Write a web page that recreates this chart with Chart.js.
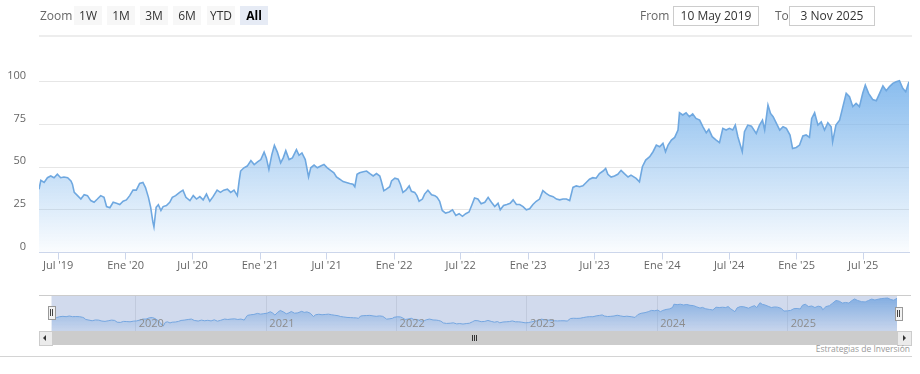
<!DOCTYPE html>
<html>
<head>
<meta charset="utf-8">
<script src="https://cdn.jsdelivr.net/npm/chart.js@4.4.1/dist/chart.umd.min.js"></script>
<style>
html,body{margin:0;padding:0;background:#fff;}
body{width:920px;height:374px;position:relative;overflow:hidden;font-family:"Open Sans",Arial,sans-serif;}
canvas{position:absolute;left:0;}
.t{position:absolute;white-space:nowrap;}
.btn{position:absolute;top:6px;height:19px;width:28px;background:#f7f7f7;color:#333;font-size:12px;line-height:19px;text-align:center;}
.btn.sel{background:#e6ebf5;font-weight:bold;color:#000;}
.inp{position:absolute;top:6px;height:18px;width:84px;border:1px solid #cccccc;background:#fff;color:#333;font-size:12px;line-height:18px;text-align:center;}
.ln{position:absolute;}
</style>
</head>
<body>
<canvas id="main" width="920" height="290" style="top:0;width:920px;height:290px;"></canvas>
<canvas id="nav" width="920" height="36" style="top:295px;width:920px;height:36px;"></canvas>

<div class="t" style="left:40px;top:6px;line-height:19px;font-size:12px;color:#666;">Zoom</div>
<div class="btn" style="left:74px;">1W</div>
<div class="btn" style="left:107px;">1M</div>
<div class="btn" style="left:140px;">3M</div>
<div class="btn" style="left:173px;">6M</div>
<div class="btn" style="left:207px;">YTD</div>
<div class="btn sel" style="left:240px;">All</div>
<div class="t" style="left:640px;top:6px;line-height:20px;font-size:12px;color:#666;">From</div>
<div class="inp" style="left:673px;">10 May 2019</div>
<div class="t" style="left:775px;top:6px;line-height:20px;font-size:12px;color:#666;">To</div>
<div class="inp" style="left:789px;">3 Nov 2025</div>
<div class="ln" style="left:39px;top:35px;width:873px;height:2px;background:#ededed;"></div>

<!-- navigator outline, handles and scrollbar -->
<div class="ln" style="left:39px;top:295px;width:872px;height:1px;background:#cccccc;"></div>
<div class="ln" style="left:48px;top:306px;width:6px;height:12px;background:#f2f2f2;border:1px solid #999;"></div>
<div class="ln" style="left:50px;top:309px;width:1px;height:7px;background:#444;"></div>
<div class="ln" style="left:52px;top:309px;width:1px;height:7px;background:#444;"></div>
<div class="ln" style="left:895px;top:307px;width:6px;height:12px;background:#f2f2f2;border:1px solid #999;"></div>
<div class="ln" style="left:897px;top:310px;width:1px;height:7px;background:#444;"></div>
<div class="ln" style="left:899px;top:310px;width:1px;height:7px;background:#444;"></div>

<div class="ln" style="left:39px;top:331px;width:872px;height:14px;background:#f2f2f2;"></div>
<div class="ln" style="left:52px;top:331px;width:845px;height:14px;background:#cccccc;"></div>
<div class="ln" style="left:39px;top:331px;width:12px;height:13px;background:#ebebeb;border:1px solid #cccccc;"></div>
<div class="ln" style="left:43px;top:335px;width:0;height:0;border-top:3px solid transparent;border-bottom:3px solid transparent;border-right:3px solid #333;"></div>
<div class="ln" style="left:897px;top:331px;width:13px;height:13px;background:#ebebeb;border:1px solid #cccccc;"></div>
<div class="ln" style="left:903px;top:335px;width:0;height:0;border-top:3px solid transparent;border-bottom:3px solid transparent;border-left:3px solid #333;"></div>
<div class="ln" style="left:472px;top:335px;width:1px;height:6px;background:#333;"></div>
<div class="ln" style="left:474px;top:335px;width:1px;height:6px;background:#333;"></div>
<div class="ln" style="left:476px;top:335px;width:1px;height:6px;background:#333;"></div>

<div class="t" style="right:10px;top:343px;line-height:12px;font-size:8.5px;color:#999;">Estrategias de Inversión</div>
<div class="ln" style="left:0;top:356px;width:912px;height:1px;background:#d4d4d4;"></div>

<script>
const dates = [
"2019-05-10","2019-05-15","2019-05-24","2019-06-02","2019-06-11","2019-06-20","2019-06-29","2019-07-08","2019-07-17","2019-07-27",
"2019-08-05","2019-08-09","2019-08-14","2019-08-23","2019-09-01","2019-09-10","2019-09-19","2019-09-28","2019-10-07","2019-10-16",
"2019-10-25","2019-11-03","2019-11-10","2019-11-19","2019-11-28","2019-12-07","2019-12-16","2019-12-25","2020-01-03","2020-01-12",
"2020-01-21","2020-01-30","2020-02-08","2020-02-17","2020-02-24","2020-03-03","2020-03-09","2020-03-15","2020-03-18","2020-03-24",
"2020-03-30","2020-04-06","2020-04-12","2020-04-21","2020-04-30","2020-05-07","2020-05-16","2020-05-27","2020-06-05","2020-06-13",
"2020-06-24","2020-07-03","2020-07-12","2020-07-21","2020-07-30","2020-08-08","2020-08-17","2020-08-26","2020-09-06","2020-09-15",
"2020-09-24","2020-10-04","2020-10-13","2020-10-22","2020-10-31","2020-11-05","2020-11-09","2020-11-18","2020-11-27","2020-12-07",
"2020-12-16","2020-12-25","2021-01-03","2021-01-12","2021-01-18","2021-01-25","2021-02-02","2021-02-09","2021-02-17","2021-02-26",
"2021-03-05","2021-03-12","2021-03-21","2021-03-30","2021-04-10","2021-04-17","2021-04-25","2021-05-04","2021-05-13","2021-05-19",
"2021-05-28","2021-06-06","2021-06-15","2021-06-24","2021-07-03","2021-07-12","2021-07-21","2021-07-28","2021-08-06","2021-08-15",
"2021-08-24","2021-09-02","2021-09-11","2021-09-16","2021-09-22","2021-09-29","2021-10-09","2021-10-18","2021-10-27","2021-11-05",
"2021-11-14","2021-11-23","2021-11-27","2021-12-04","2021-12-11","2021-12-20","2021-12-25","2022-01-03","2022-01-12","2022-01-18",
"2022-01-25","2022-02-02","2022-02-11","2022-02-17","2022-02-26","2022-03-04","2022-03-10","2022-03-19","2022-03-25","2022-04-03",
"2022-04-13","2022-04-22","2022-04-28","2022-05-05","2022-05-12","2022-05-21","2022-05-31","2022-06-09","2022-06-18","2022-06-27",
"2022-07-06","2022-07-15","2022-07-24","2022-08-02","2022-08-08","2022-08-17","2022-08-26","2022-09-05","2022-09-14","2022-09-23",
"2022-10-02","2022-10-11","2022-10-17","2022-10-26","2022-11-04","2022-11-13","2022-11-21","2022-11-30","2022-12-09","2022-12-18",
"2022-12-27","2023-01-05","2023-01-14","2023-01-23","2023-02-01","2023-02-10","2023-02-19","2023-02-28","2023-03-10","2023-03-19",
"2023-03-28","2023-04-06","2023-04-15","2023-04-24","2023-05-03","2023-05-12","2023-05-21","2023-05-30","2023-06-08","2023-06-17",
"2023-06-26","2023-07-05","2023-07-14","2023-07-24","2023-07-31","2023-08-06","2023-08-15","2023-08-24","2023-09-02","2023-09-11",
"2023-09-20","2023-09-30","2023-10-08","2023-10-22","2023-10-31","2023-11-08","2023-11-17","2023-11-28","2023-12-07","2023-12-16",
"2023-12-25","2024-01-03","2024-01-10","2024-01-17","2024-01-26","2024-02-04","2024-02-13","2024-02-17","2024-02-26","2024-03-06",
"2024-03-15","2024-03-24","2024-04-02","2024-04-12","2024-04-21","2024-04-30","2024-05-07","2024-05-16","2024-05-27","2024-06-05",
"2024-06-14","2024-06-23","2024-07-02","2024-07-11","2024-07-18","2024-07-25","2024-08-06","2024-08-12","2024-08-21","2024-08-31",
"2024-09-13","2024-09-22","2024-09-30","2024-10-06","2024-10-15","2024-10-22","2024-10-29","2024-11-07","2024-11-16","2024-11-25",
"2024-12-04","2024-12-14","2024-12-21","2024-12-31","2025-01-09","2025-01-18","2025-01-27","2025-02-05","2025-02-11","2025-02-19",
"2025-02-28","2025-03-09","2025-03-18","2025-03-27","2025-04-05","2025-04-09","2025-04-18","2025-04-28","2025-05-07","2025-05-16",
"2025-05-25","2025-06-03","2025-06-12","2025-06-21","2025-06-30","2025-07-07","2025-07-16","2025-07-27","2025-08-06","2025-08-15",
"2025-08-24","2025-09-02","2025-09-11","2025-09-20","2025-09-29","2025-10-08","2025-10-17","2025-10-25","2025-11-03"
];
const values = [
37,42.3,41,43.8,44.8,43.8,45.8,43.8,44.2,43.8,
41.9,40,35.2,33.3,31.3,33.8,33.3,30.4,29.4,31.3,
33.3,32.3,26.9,26.2,29.4,28.8,28.1,30,30.8,33.3,
36.5,36.5,40.4,41,38,32.3,26.5,17.9,15,26.5,
28,24.6,26.9,27.5,29.4,32.3,33.3,35.2,36.5,32.3,
30.4,33.3,31.3,32.7,30.8,34.2,30,32.7,36.5,35.2,
36.5,37.1,35.2,36.5,33.3,41.9,47.7,49.6,50.6,53.8,
51.5,53,54.4,58.8,55.4,48.7,57.3,62.7,58.8,52.5,
55.4,59.6,54.4,55.4,60.2,56.9,58.3,54.4,44.2,49.6,
51.2,49.6,50.6,51.5,49.6,48.1,46.7,44.2,42.9,41.5,
41,40.4,40,38.5,45.8,46.7,47.3,47.7,46.2,44.8,
46.2,44.8,41.9,36.2,37.1,38.5,41.9,43.5,42.9,40,
35.2,36.5,39,35.8,35.2,33.3,30,31.3,34.2,36.5,
33.8,33.3,32.3,30,24.6,23.1,23.7,25,21.7,22.7,
21.2,22.7,23.7,28.5,31.9,31.3,28.5,29.4,32.3,29.4,
26.9,28.8,25,27.5,28.1,28.8,30.8,28.1,28.1,26.9,
25,25.6,28.1,30,31.3,36.2,34.6,33.3,32.7,31.3,
30.8,31.3,31.3,30.4,38.1,39,38.5,39,41,42.9,
43.8,43.5,46.2,47.7,49.2,45.8,44.2,44.8,45.8,48.1,
46.2,44.2,45.3,43.4,41.4,50.2,54.1,56.1,59,62.9,
61.9,63.9,59,62.9,65.8,67.4,71.7,81.8,80.5,81.8,
79.5,81.1,78.5,77.5,73.6,70.1,72.1,67.8,65.8,64.3,
72.7,71.7,72.7,71.7,74.6,67.8,59,70.7,74.6,74,
69.7,74.6,77.5,71.7,86.3,81.4,79.5,75.6,71.7,73.6,
72.7,68.8,60.9,61.5,62.9,68.2,68.8,67.4,78.5,81.8,
74.6,76.5,71.7,76,73.6,64.8,74.6,77.5,85.4,93.2,
91.2,85.4,87.3,85.4,93.2,98,93.2,89.6,88.9,93.2,
97.5,94.7,97.1,99,100,100.6,96.1,94.1,100
];
const xTickDates = ["2019-07-01","2020-01-01","2020-07-01","2021-01-01","2021-07-01","2022-01-01","2022-07-01","2023-01-01","2023-07-01","2024-01-01","2024-07-01","2025-01-01","2025-07-01"];
const xTickLabels = ["Jul '19","Ene '20","Jul '20","Ene '21","Jul '21","Ene '22","Jul '22","Ene '23","Jul '23","Ene '24","Jul '24","Ene '25","Jul '25"];
const yTickValues = [0,25,50,75,100];
const navTickDates = ["2020-01-01","2021-01-01","2022-01-01","2023-01-01","2024-01-01","2025-01-01"];
const navTickLabels = ["2020","2021","2022","2023","2024","2025"];
const rangeStart = "2019-05-10";
const rangeEnd = "2025-11-03";

function toTs(s){const p=s.split('-').map(Number);return Date.UTC(p[0],p[1]-1,p[2]);}
const points = dates.map((d,i)=>({x:toTs(d),y:values[i]}));

function areaGradient(topAlpha,bottomAlpha){
  return function(ctx){
    const chart=ctx.chart; const ca=chart.chartArea;
    if(!ca) return 'rgba(124,181,236,0.4)';
    const top=chart.scales.y.getPixelForValue(Math.max(...values));
    const g=chart.ctx.createLinearGradient(0,top,0,ca.bottom);
    g.addColorStop(0,'rgba(124,181,236,'+topAlpha+')');
    g.addColorStop(1,'rgba(124,181,236,'+bottomAlpha+')');
    return g;
  };
}
const font = {family:"'Open Sans', Arial, sans-serif", size:11};

new Chart(document.getElementById('main'),{
  type:'line',
  data:{datasets:[{data:points,borderColor:'#6fa8e0',borderWidth:1.6,pointRadius:0,tension:0,fill:'origin',backgroundColor:areaGradient(0.9,0.03)}]},
  options:{
    responsive:false,animation:false,
    layout:{padding:{top:39,right:11,left:0,bottom:0}},
    plugins:{legend:{display:false},tooltip:{enabled:false}},
    scales:{
      x:{type:'linear',min:toTs(rangeStart),max:toTs(rangeEnd),
        afterBuildTicks:s=>{s.ticks=xTickDates.map(d=>({value:toTs(d)}));},
        afterFit:s=>{s.height=37.5;},
        ticks:{autoSkip:false,maxRotation:0,padding:0,color:'#666',font:font,callback:(v,i)=>xTickLabels[i]},
        grid:{drawOnChartArea:false,drawTicks:true,tickLength:7,color:'#ccd6eb'},
        border:{display:true,color:'#ccd6eb'}},
      y:{min:0,max:125,
        afterBuildTicks:s=>{s.ticks=yTickValues.map(v=>({value:v}));},
        afterFit:s=>{s.width=39;},
        ticks:{padding:13,labelOffset:-6,color:'#666',font:font,callback:v=>String(v)},
        grid:{color:'#e6e6e6',drawTicks:false},
        border:{display:false}}
    }
  }
});

const navPlugin={id:'navDecor',afterDatasetsDraw(chart){
  const {ctx,chartArea:a,scales}=chart; ctx.save();
  ctx.fillStyle='rgba(102,133,194,0.3)';
  ctx.fillRect(a.left,a.top,a.right-a.left,a.bottom-a.top);
  ctx.fillStyle='#8c8c8c'; ctx.font="11px 'Open Sans', Arial, sans-serif";
  ctx.textAlign='left'; ctx.textBaseline='middle';
  navTickDates.forEach((d,i)=>{ctx.fillText(navTickLabels[i], scales.x.getPixelForValue(toTs(d))+3, a.bottom-7);});
  ctx.restore();}};

new Chart(document.getElementById('nav'),{
  type:'line',
  data:{datasets:[{data:points,borderColor:'#7cb5ec',borderWidth:1,pointRadius:0,tension:0,fill:'origin',backgroundColor:function(ctx){
    const chart=ctx.chart; const ca=chart.chartArea; if(!ca) return 'rgba(124,181,236,0.4)';
    const g=chart.ctx.createLinearGradient(0,ca.top,0,ca.bottom);
    g.addColorStop(0,'rgba(124,181,236,0.9)'); g.addColorStop(1,'rgba(124,181,236,0.1)'); return g;}}]},
  options:{
    responsive:false,animation:false,
    layout:{padding:{top:0,right:23,left:51.5,bottom:0}},
    plugins:{legend:{display:false},tooltip:{enabled:false}},
    scales:{
      x:{type:'linear',min:toTs(rangeStart),max:toTs(rangeEnd),
        afterBuildTicks:s=>{s.ticks=navTickDates.map(d=>({value:toTs(d)}));},
        afterFit:s=>{s.height=0;},
        ticks:{display:false},
        grid:{drawOnChartArea:true,drawTicks:false,color:'rgba(0,0,0,0.09)'},
        border:{display:false}},
      y:{display:false,min:0,max:110}
    }
  },
  plugins:[navPlugin]
});
</script>
</body>
</html>
